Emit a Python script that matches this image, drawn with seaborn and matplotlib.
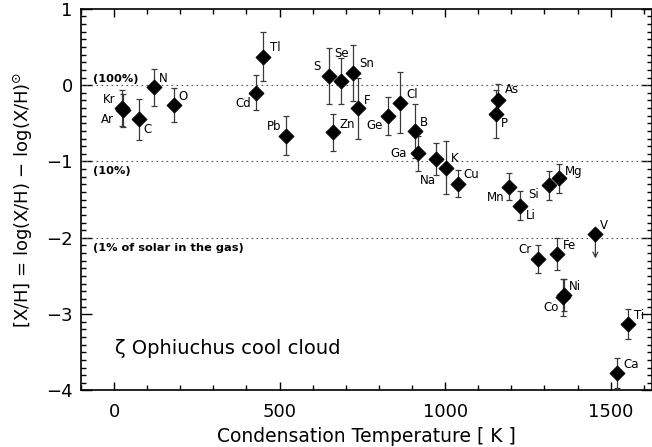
import numpy as np
import pandas as pd
import seaborn as sns
import matplotlib
matplotlib.use('Agg')
import matplotlib.pyplot as plt
from matplotlib.ticker import MultipleLocator

# Element depletions in the zeta Oph cool cloud
elements = ['Kr', 'Ar', 'C', 'N', 'O', 'Cd', 'Tl', 'Pb', 'S', 'Zn', 'Se', 'Sn', 'F',
            'Ge', 'Cl', 'B', 'Ga', 'Na', 'K', 'Cu', 'As', 'P', 'Mn', 'Li', 'Si', 'Mg',
            'Cr', 'Fe', 'V', 'Ni', 'Co', 'Ti', 'Ca']
tcond = [25, 28, 74, 121, 181, 429, 451, 520, 648, 661, 684, 721, 738,
         827, 864, 910, 918, 972, 1002, 1039, 1159, 1154, 1193, 1227, 1313, 1344,
         1280, 1338, 1454, 1359, 1355, 1553, 1520]
xh = [-0.30, -0.33, -0.45, -0.03, -0.26, -0.10, 0.37, -0.66, 0.12, -0.62, 0.05, 0.16, -0.30,
      -0.40, -0.23, -0.60, -0.89, -0.97, -1.08, -1.29, -0.19, -0.38, -1.33, -1.58, -1.31, -1.22,
      -2.28, -2.21, -1.95, -2.75, -2.78, -3.13, -3.77]
xh_err = [0.24, 0.22, 0.27, 0.24, 0.22, 0.23, 0.32, 0.26, 0.37, 0.24, 0.30, 0.37, 0.40,
          0.25, 0.40, 0.35, 0.23, 0.21, 0.35, 0.18, 0.20, 0.31, 0.18, 0.19, 0.19, 0.19,
          0.18, 0.21, np.nan, 0.21, 0.24, 0.20, 0.20]
upper_limit = ['V']

# label placement relative to each marker (pixels, +y up)
label_offset = {
    'Kr': (-13, 9), 'Ar': (-16, -9), 'C': (9, -10), 'N': (9, 9), 'O': (9, 8),
    'Cd': (-13, -11), 'Tl': (12, 9), 'Pb': (-12, 9), 'S': (-12, 9), 'Zn': (14, 8),
    'Se': (1, 28), 'Sn': (14, 9), 'F': (9, 8), 'Ge': (-13, -10), 'Cl': (12, 8),
    'B': (9, 8), 'Ga': (-19, 0), 'Na': (-8, -21), 'K': (9, 9), 'Cu': (13, 9),
    'As': (14, 10), 'P': (8, -9), 'Mn': (-13, -11), 'Li': (11, -10), 'Si': (-15, -9),
    'Mg': (15, 7), 'Cr': (-13, 10), 'Fe': (13, 8), 'V': (9, 9), 'Ni': (11, 9),
    'Co': (-12, -10), 'Ti': (11, 9), 'Ca': (14, 8),
}

df = pd.DataFrame({'element': elements, 'tcond': tcond, 'xh': xh, 'err': xh_err})

sns.set_style('ticks')
plt.rcParams['font.family'] = ['DejaVu Sans']
plt.rcParams['text.color'] = 'black'
plt.rcParams['axes.labelcolor'] = 'black'
plt.rcParams['xtick.color'] = 'black'
plt.rcParams['ytick.color'] = 'black'
plt.rcParams['axes.edgecolor'] = 'black'

fig = plt.figure(figsize=(6.52, 4.47), dpi=100)
ax = fig.add_axes([0.1242, 0.1264, 0.8758, 0.8539])

# error bars first, then the diamonds on top
ok = df['err'].notna()
ax.errorbar(df.loc[ok, 'tcond'], df.loc[ok, 'xh'], yerr=df.loc[ok, 'err'],
            fmt='none', ecolor='#3a3a3a', elinewidth=0.9, capsize=2.5, capthick=0.9, zorder=2)
for _, r in df[df['element'].isin(upper_limit)].iterrows():
    ax.annotate('', xy=(r['tcond'], r['xh'] - 0.32), xytext=(r['tcond'], r['xh']),
                arrowprops=dict(arrowstyle='->', color='#3a3a3a', lw=0.9,
                                shrinkA=0, shrinkB=0, mutation_scale=9), zorder=2)

sns.scatterplot(data=df, x='tcond', y='xh', marker='D', s=60, color='black',
                edgecolor='black', linewidth=0.5, legend=False, zorder=3, ax=ax)

for _, r in df.iterrows():
    dx, dy = label_offset[r['element']]
    ax.annotate(r['element'], (r['tcond'], r['xh']), xytext=(dx, dy),
                textcoords='offset pixels', ha='center', va='center', fontsize=8.5)

# reference levels
for lev in [0, -1, -2]:
    ax.axhline(lev, color='#555555', lw=0.8, ls=(0, (1.5, 3)), zorder=1)
ax.text(-64, 0.075, '(100%)', fontsize=8.2, fontweight='bold', va='center', ha='left')
ax.text(-64, -1.12, '(10%)', fontsize=8.2, fontweight='bold', va='center', ha='left')
ax.text(-64, -2.13, '(1% of solar in the gas)', fontsize=8.2, fontweight='bold',
        va='center', ha='left')

ax.text(2, -3.45, 'ζ Ophiuchus cool cloud', fontsize=14, va='center', ha='left')

ax.set_xlim(-100, 1625)
ax.set_ylim(-4, 1)
ax.xaxis.set_major_locator(MultipleLocator(500))
ax.xaxis.set_minor_locator(MultipleLocator(100))
ax.yaxis.set_major_locator(MultipleLocator(1))
ax.yaxis.set_minor_locator(MultipleLocator(0.1))
ax.tick_params(which='both', direction='in', top=True, right=True, width=1,
               labelsize=13, color='black')
ax.tick_params(axis='x', which='major', length=5.5, pad=9)
ax.tick_params(axis='x', which='minor', length=3.5)
ax.tick_params(axis='y', which='major', length=8, pad=6)
ax.tick_params(axis='y', which='minor', length=3.5)
for sp in ax.spines.values():
    sp.set_linewidth(1.2)

ax.set_xlabel('Condensation Temperature [ K ]', fontsize=13.5, labelpad=4)
ax.set_ylabel(r'[X/H] = log(X/H) $-$ log(X/H)$^{\odot}$', fontsize=13, labelpad=8)

fig.savefig('out.png', dpi=100)
